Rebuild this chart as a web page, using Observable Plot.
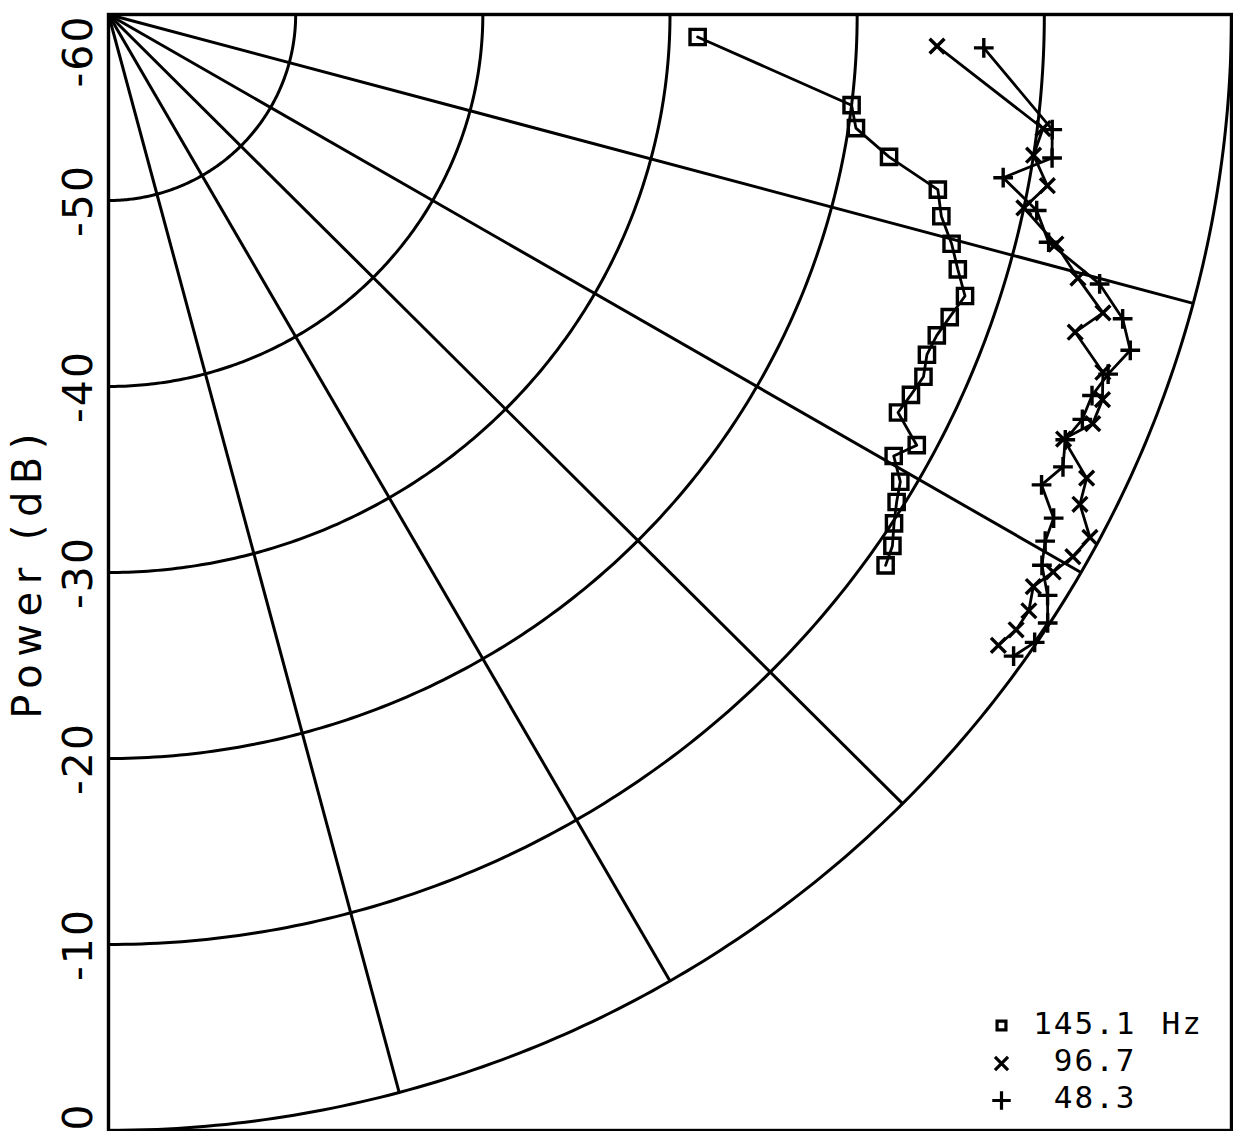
<!DOCTYPE html>
<html>
<head>
<meta charset="utf-8">
<script src="https://cdn.jsdelivr.net/npm/d3@7"></script>
<script src="https://cdn.jsdelivr.net/npm/@observablehq/plot@0.6"></script>
<style>
  html, body { margin: 0; padding: 0; background: #fff; }
  #chart svg { display: block; background: #fff; }
</style>
</head>
<body>
<div id="chart"></div>
<script>
// Measurement angles (degrees), shared by the three harmonics
const angles = [2.2, 7.0, 8.7, 10.4, 12.0, 13.7, 15.3, 16.8, 18.3, 19.9, 21.3,
                22.7, 24.1, 25.5, 26.9, 28.2, 29.5, 30.7, 31.9, 33.1, 34.3, 35.5];

// Received power (dB) at each angle
const power145 = [-28.5, -20.0, -19.6, -17.6, -14.7, -14.2, -13.3, -12.6, -11.8, -12.2, -12.5,
                  -12.6, -12.3, -12.5, -12.7, -11.0, -11.8, -10.8, -10.4, -9.9, -9.3, -9.0];
const power96  = [-15.7, -9.7, -10.0, -9.0, -10.0, -7.9, -6.3, -4.5, -5.6, -3.5, -3.0,
                  -3.0, -4.1, -2.1, -1.8, -0.5, -0.8, -1.3, -1.8, -1.3, -1.3, -1.6];
const power48  = [-13.2, -9.2, -9.0, -11.4, -9.3, -8.3, -5.1, -3.4, -2.5, -3.2, -3.6,
                  -3.6, -4.0, -3.5, -4.1, -2.7, -2.5, -2.0, -0.9, -0.1, -0.1, -0.6];

// Legend labels and symbols
const seriesLabels  = ["145.1", "96.7", "48.3"];
const seriesSymbols = ["square", "times", "plus"];
const unitLabel = "Hz";

// Radial axis (power) and polar grid
const powerTicks  = [-60, -50, -40, -30, -20, -10, 0];
const gridPowers  = [-50, -40, -30, -20, -10, 0];
const spokeAngles = [15, 30, 45, 60, 75];
const axisTitle = "Power (dB)";

// ---- polar -> cartesian helpers (centre of the plot is the lowest power) ----
const centerPower = -60;
const rad = Math.PI / 180;
const px = (p, a) => (p - centerPower) * Math.cos(a * rad);
const py = (p, a) => (p - centerPower) * Math.sin(a * rad);

const seriesValues = [power145, power96, power48];
const rows = seriesValues.flatMap((vals, k) =>
  vals.map((p, i) => ({series: seriesLabels[k], angle: angles[i], power: p})));

const arcRows = gridPowers.flatMap(p =>
  d3.range(0, 90.001, 0.5).map(a => ({power: p, angle: a})));

const ink = "#000";
const tickFont = "DejaVu Sans, sans-serif";
const legendFont = "DejaVu Sans Mono, monospace";

const dotSizes = {square: 8.6, times: 6.8, plus: 6.4};
const legendSizes = {square: 5, times: 6, plus: 6};

const marks = [
  // concentric power arcs
  Plot.line(arcRows, {
    x: d => px(d.power, d.angle), y: d => py(d.power, d.angle), z: "power",
    stroke: ink, strokeWidth: 3
  }),
  // radial spokes
  Plot.link(spokeAngles, {
    x1: a => px(centerPower, a), y1: a => py(centerPower, a),
    x2: a => px(0, a), y2: a => py(0, a),
    stroke: ink, strokeWidth: 3
  }),
  Plot.frame({stroke: ink, strokeWidth: 3.4}),
  // measured curves
  Plot.line(rows, {
    x: d => px(d.power, d.angle), y: d => py(d.power, d.angle), z: "series",
    stroke: ink, strokeWidth: 2.8
  }),
  ...seriesLabels.map((lab, k) => Plot.dot(rows.filter(d => d.series === lab), {
    x: d => px(d.power, d.angle), y: d => py(d.power, d.angle),
    symbol: seriesSymbols[k], r: dotSizes[seriesSymbols[k]],
    stroke: ink, fill: "none", strokeWidth: 3.4
  })),
  // power tick labels along the left edge (first and last kept inside the frame)
  ...[
    [powerTicks.slice(0, 1), "end"],
    [powerTicks.slice(1, -1), "middle"],
    [powerTicks.slice(-1), "start"]
  ].map(([ticks, anchor]) => Plot.text(ticks, {
    frameAnchor: "left", y: d => d - centerPower, text: d => String(d),
    rotate: -90, textAnchor: anchor, lineAnchor: "middle", dx: -30,
    fontSize: 41, fontFamily: tickFont, fill: ink
  })),
  Plot.text([axisTitle], {
    frameAnchor: "left", text: d => d, rotate: -90, textAnchor: "middle",
    lineAnchor: "middle", dx: -80, dy: 0,
    fontSize: 40, fontFamily: tickFont, fill: ink
  }),
  // legend
  ...seriesLabels.flatMap((lab, k) => {
    const dy = -106 + k * 37;
    const sym = seriesSymbols[k];
    const m = [
      Plot.dot([lab], {
        frameAnchor: "bottom-right", dx: -230, dy: dy + (k ? 2 : 1),
        symbol: sym, r: legendSizes[sym], stroke: ink, fill: "none", strokeWidth: 3.2
      }),
      Plot.text([lab], {
        frameAnchor: "bottom-right", text: d => d, textAnchor: "end", lineAnchor: "middle",
        dx: -95, dy, fontSize: 31, fontFamily: legendFont, fill: ink
      })
    ];
    if (k === 0) m.push(Plot.text([unitLabel], {
      frameAnchor: "bottom-right", text: d => d, textAnchor: "start", lineAnchor: "middle",
      dx: -70, dy, fontSize: 31, fontFamily: legendFont, fill: ink
    }));
    return m;
  })
];

const chart = Plot.plot({
  width: 1233,
  height: 1131,
  marginLeft: 108,
  marginRight: 2,
  marginTop: 14,
  marginBottom: 1,
  style: {background: "#fff", overflow: "visible"},
  x: {domain: [0, 60], axis: null},
  y: {domain: [0, 60], reverse: true, axis: null},
  marks
});

// wide, pen-plotter style letter spacing for the lettering
const tickText = new Set(powerTicks.map(String));
const legendText = new Set([...seriesLabels, unitLabel]);
d3.select(chart).selectAll("text").each(function () {
  const t = this.textContent;
  if (t === axisTitle) this.setAttribute("letter-spacing", "7.5");
  else if (tickText.has(t)) this.setAttribute("letter-spacing", "2");
  else if (legendText.has(t)) this.setAttribute("letter-spacing", "2");
});

document.getElementById("chart").appendChild(chart);
</script>
</body>
</html>
